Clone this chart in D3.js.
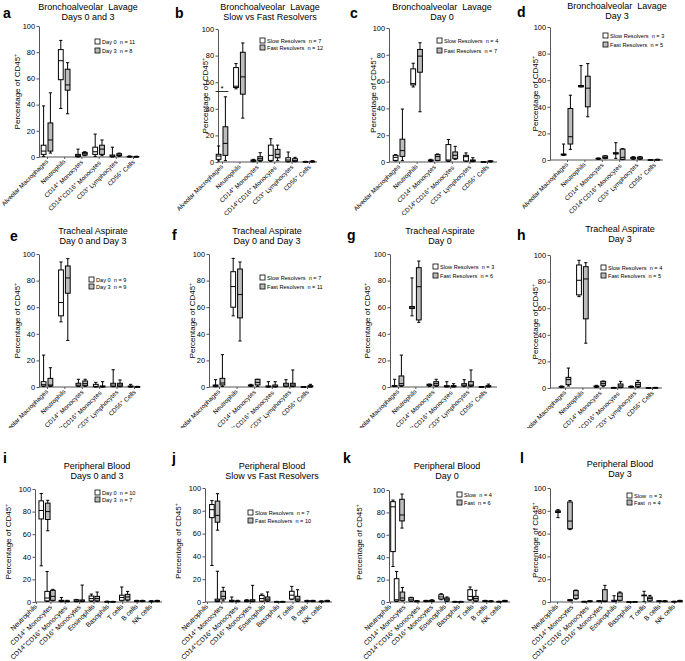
<!DOCTYPE html>
<html><head><meta charset="utf-8">
<script src="https://cdn.jsdelivr.net/npm/d3@7"></script>
<style>
body{margin:0;background:#fff}
svg{display:block}
text{font-family:"Liberation Sans",Arial,sans-serif;fill:#000}
</style>
</head><body>
<svg id="chart" width="685" height="661"></svg>
<script>
// ---------- categories & tick labels ----------
const lungCategories = ["Alveolar Macrophages","Neutrophils","CD14^+ Monocytes","CD14^+CD16^+ Monocytes","CD3^+ Lymphocytes","CD56^+ Cells"];
const bloodCategories = ["Neutrophils","CD14^+ Monocytes","CD14^+CD16^+ Monocytes","CD16^+ Monocytes","Eosinophils","Basophils","T cells","B cells","NK cells"];
const yTicks = [0,20,40,60,80,100];
const yLabel = "Percentage of CD45^+";
const panelLetters = ["a","b","c","d","e","f","g","h","i","j","k","l"];
const titleLine1 = ["Bronchoalveolar  Lavage","Bronchoalveolar  Lavage","Bronchoalveolar  Lavage","Bronchoalveolar  Lavage",
  "Tracheal Aspirate","Tracheal Aspirate","Tracheal Aspirate","Tracheal Aspirate",
  "Peripheral Blood","Peripheral Blood","Peripheral Blood","Peripheral Blood"];
const titleLine2 = ["Days 0 and 3","Slow vs Fast Resolvers","Day 0","Day 3",
  "Day 0 and Day 3","Day 0 and Day 3","Day 0","Day 3",
  "Days 0 and 3","Slow vs Fast Resolvers","Day 0","Day 3"];
const legendFirst = ["Day 0  n = 11","Slow Resolvers  n = 7","Slow Resolvers  n = 4","Slow Resolvers  n = 3",
  "Day 0  n = 9","Slow Resolvers  n = 7","Slow Resolvers  n = 3","Slow Resolvers  n = 4",
  "Day 0  n = 10","Slow Resolvers  n = 7","Slow  n = 4","Slow  n = 3"];
const legendSecond = ["Day 3  n = 8","Fast Resolvers  n = 12","Fast Resolvers  n = 7","Fast Resolvers  n = 5",
  "Day 3  n = 9","Fast Resolvers  n = 11","Fast Resolvers  n = 6","Fast Resolvers  n = 5",
  "Day 3  n = 7","Fast Resolvers  n = 10","Fast  n = 6","Fast  n = 4"];

// ---------- box statistics: [min, Q1, median, Q3, max] per category ----------
// a: BAL day 0 vs day 3
const aFirst  = [[0.5,2,4.5,9,39],[37,59,73.5,82,89],[0,0.3,1,2,6],[0.5,2,4,7.5,17.5],[0,0.3,0.8,1.5,7.5],[0,0.1,0.3,0.5,0.8]];
const aSecond = [[3,4.5,13,26,49],[33,51,55,67,72],[1,1.5,2.5,3.5,4],[1,2,6,9,13],[0.5,1,1.5,2.5,3],[0,0.1,0.2,0.4,0.6]];
// b: BAL slow vs fast
const bFirst  = [[0.8,2,4.5,5.8,12],[55,56,57,71,74],[0.2,0.5,1,1.5,2],[0.5,1.2,5,12.7,17.5],[0,0.5,1.5,3.2,7.5],[0,0,0.2,0.3,0.5]];
const bSecond = [[1,5,14,26.5,49],[33,51,64,82.5,89.5],[0.5,1.2,2.5,4,7],[1,3.2,5.8,9.5,12.7],[0.2,0.5,1,2.5,3.5],[0,0.1,0.3,0.6,1]];
const bSignificance = [{category:"Alveolar Macrophages", value:53, label:"*"}];
// c: BAL day 0
const cFirst  = [[0.8,1.2,3.5,5,5.5],[56,57.5,58.5,69.5,73.7],[0.5,0.8,1,1.5,2],[0.5,0.8,1.5,13,16.8],[0.5,0.8,4,5,6.8],[0,0,0.1,0.2,0.3]];
const cSecond = [[1,4.2,8.5,17,39.5],[37.5,67,79,84,89],[1,1.2,4,5.5,6],[2,2.5,5,7.5,11.7],[0.2,0.5,1,1.5,3.2],[0,0.2,0.5,0.8,1]];
// d: BAL day 3
const dFirst  = [[3.5,3.7,4,4.5,12],[55,55,55.5,56,71],[0.5,0.8,1,1.3,1.5],[1.2,4.5,5,5.5,13],[0.5,1,1.5,2,2.5],[0,0,0.1,0.2,0.3]];
const dSecond = [[8,12,17.5,38.7,48.7],[32.5,40,54,63,72.5],[1,1.3,2,3,3.2],[0.3,0.5,2,8.2,8.5],[0.5,0.8,1.5,2.2,2.5],[0,0.1,0.2,0.4,0.6]];
// e: TA day 0 vs day 3
const eFirst  = [[0.3,0.8,2,4,24],[49,53.5,63.5,88,94],[0.3,0.8,1.5,2.8,5.8],[0,0.2,0.5,2,3.5],[0.2,0.5,1.5,2.8,13],[0,0.1,0.3,0.8,2]];
const eSecond = [[0.3,0.8,1.5,6.5,14.5],[35,70.5,82,91,96.5],[0.5,1,2.5,4.5,5.8],[0,0.1,0.3,0.8,4],[0.2,0.5,1.5,2.8,5.3],[0,0,0.1,0.3,0.5]];
// f: TA slow vs fast
const fFirst  = [[0.2,0.5,1,1.5,5.5],[53.5,60,75.5,86.7,96.7],[0.5,0.8,1,1.5,2],[0,0.1,0.3,0.8,4],[0.2,0.5,1.5,2.8,5.5],[0,0,0.1,0.2,0.3]];
const fSecond = [[0.5,1.5,3,6.5,24.3],[34.6,52,69.5,88.7,94],[0.5,1.5,3.5,5.8,5.8],[0,0.2,0.5,1.5,4],[0.2,0.5,1.5,2.8,12.8],[0,0.1,0.3,1,2]];
// g: TA day 0
const gFirst  = [[0.3,0.5,0.8,1,5.8],[53.5,59,60,60.5,82],[0.5,1,1.5,2,2.2],[0,0.2,0.5,1,4],[0.3,0.8,1.5,2.5,5.5],[0,0,0.1,0.2,0.3]];
const gSecond = [[0.5,1,2.5,8.3,24],[48.6,50.4,75.4,89.7,94.7],[0.5,1,2.5,4,5.8],[0,0.2,0.5,1,2.5],[0.3,0.8,1.5,4,12.8],[0,0.2,0.5,1,2.2]];
// h: TA day 3
const hFirst  = [[0.3,0.6,0.9,1.2,1.5],[68.7,70,81,92.5,96],[0.5,0.8,1,1.5,2],[0,0.1,0.2,0.3,0.5],[0.3,0.6,0.9,1.2,1.5],[0,0,0.1,0.2,0.3]];
const hSecond = [[1.5,2.5,6.3,8,15],[33.7,52,82,91.2,94.2],[1,2,3.5,5,5.2],[0.2,0.5,1.5,3,5],[0.5,1,2.5,4.2,5.7],[0,0.1,0.2,0.3,0.5]];
// i: PB day 0 vs day 3
const iFirst  = [[32,73.5,81,89.5,96],[0.5,1,3.5,9.4,27],[0.2,0.5,1,1.5,4],[0.2,0.5,1,2,2.3],[0.5,1,3,5.3,7],[0,0.1,0.3,0.5,0.8],[1,1.5,4,6,13.3],[0.3,0.5,0.8,1.2,1.5],[0.2,0.4,0.6,0.8,1.2]];
const iSecond = [[63,73,80,87.5,90],[1,1.5,5,10.3,11.2],[0.2,0.4,0.6,1,1.5],[0.2,0.5,1,1.8,15],[0.5,1,3,5,8.8],[0,0.1,0.2,0.4,0.6],[1,1.8,4.5,6.8,9.4],[0.3,0.5,0.8,1.2,1.5],[0.3,0.5,0.8,1.2,1.5]];
// j: PB slow vs fast
const jFirst  = [[32,74,81,85.5,89],[0.3,0.5,1.5,2.5,27],[0.2,0.5,1,1.5,4.4],[0.2,0.5,1,1.5,2],[0.5,0.8,3,5.8,7],[0,0.1,0.2,0.4,0.6],[2,2.6,6,9.4,13.7],[0.3,0.5,0.8,1.2,1.5],[0.2,0.3,0.5,0.7,1]];
const jSecond = [[63,70,76,88.5,95],[1,2.6,5,9.4,12.9],[0.2,0.4,0.6,1,1.5],[0.2,0.5,1,2,14.6],[0.5,1,2.5,4.4,8.8],[0,0.1,0.2,0.4,0.6],[0.5,1,2.5,5,10.8],[0.3,0.5,0.8,1.2,1.5],[0.3,0.5,0.8,1.2,1.5]];
// k: PB day 0
const kFirst  = [[31.7,45,85,89.6,91],[0.5,0.9,2,20.8,27.3],[0.5,1,2.5,3.9,4.2],[0.3,0.5,0.8,1.2,1.5],[2,2.7,4.5,6.5,7.4],[0,0.1,0.2,0.4,0.6],[1.5,2,5,11,13.4],[0.3,0.5,0.8,1.2,1.5],[0.1,0.2,0.3,0.5,0.7]];
const kSecond = [[66,72.4,77.7,91.7,96.4],[1,1.5,3.6,8.9,13],[0.2,0.4,0.6,1,1.3],[0.3,0.5,1,1.5,2],[0.5,1,2.5,3.6,4.5],[0,0.1,0.2,0.4,0.6],[0.5,1,3,5,10.4],[0.2,0.4,0.6,0.9,1.2],[0.3,0.5,0.8,1.2,1.5]];
// l: PB day 3
const lFirst  = [[74,78.5,79.5,80,81],[1,1.2,1.5,2,2.2],[0.1,0.2,0.3,0.5,0.6],[0.3,0.5,0.8,1,1.2],[0.3,0.5,1,1.5,5.5],[0,0,0.1,0.2,0.3],[0.5,5.5,5.8,6,9.4],[0.3,0.5,0.8,1,1.2],[0.1,0.2,0.3,0.5,0.7]];
const lSecond = [[63.5,64.3,71,87.7,89],[2.5,3,6,10,10.5],[0.2,0.4,0.6,1,1.3],[0.3,0.5,1,10.8,14.6],[1,1.5,5,7.9,8.8],[0,0.1,0.2,0.3,0.4],[0.8,1,3,4.4,5.8],[0.2,0.4,0.6,0.9,1.2],[0.3,0.5,0.8,1.2,1.5]];

const firstSeries  = [aFirst,bFirst,cFirst,dFirst,eFirst,fFirst,gFirst,hFirst,iFirst,jFirst,kFirst,lFirst];
const secondSeries = [aSecond,bSecond,cSecond,dSecond,eSecond,fSecond,gSecond,hSecond,iSecond,jSecond,kSecond,lSecond];

// ---------- layout (positions only) ----------
const layout = [
 {clip:[0,0,170,215],   axisX:39,  xEnd:137, yTop:26,  yBot:157, first:47,  last:133, letter:[3,18],   title:[88,10],   ylabX:20,  ylabDy:0,  leg:[95,39,9]},
 {clip:[170,0,170,215], axisX:218, xEnd:317, yTop:29,  yBot:162, first:222, last:309, letter:[175,18], title:[270,10],  ylabX:208, ylabDy:0,  leg:[260,38,7]},
 {clip:[340,0,170,215], axisX:389, xEnd:497, yTop:28,  yBot:162, first:399, last:487, letter:[350,18], title:[442,10],  ylabX:376, ylabDy:0,  leg:[437,38,10]},
 {clip:[510,0,175,215], axisX:550, xEnd:663, yTop:27,  yBot:160, first:567, last:654, letter:[517,17], title:[617,9],   ylabX:538, ylabDy:0,  leg:[603,33,9]},
 {clip:[0,215,170,213], axisX:39,  xEnd:140, yTop:254, yBot:387, first:47,  last:134, letter:[10,241], title:[93,234],  ylabX:20,  ylabDy:0,  leg:[89,277,7]},
 {clip:[170,215,170,213],axisX:209,xEnd:313, yTop:254, yBot:387, first:219, last:307, letter:[172,240],title:[267,234], ylabX:195, ylabDy:0,  leg:[260,275,9]},
 {clip:[340,215,170,213],axisX:390,xEnd:497, yTop:254, yBot:387, first:398, last:485, letter:[347,240],title:[440,234], ylabX:370, ylabDy:0,  leg:[433,264,9]},
 {clip:[510,215,175,213],axisX:550,xEnd:662, yTop:255, yBot:388, first:565, last:652, letter:[517,240],title:[620,232], ylabX:538, ylabDy:0,  leg:[601,265,8]},
 {clip:[0,440,170,221], axisX:35,  xEnd:162, yTop:489, yBot:602, pos:[44.5,50,64.3,79.3,94.3,110,124.7,139.7,154.3], lab:[36,151], neutOff:3.25, letter:[3,463],  title:[97,469],  ylabX:11,  ylabDy:-4, leg:[95,490,7]},
 {clip:[170,440,170,221],axisX:205,xEnd:332, yTop:488, yBot:602, pos:[214.7,220.3,234.7,249.7,264.7,279.7,294.7,310,324.3], lab:[207,321], neutOff:2.8, letter:[172,463],title:[272,469], ylabX:181, ylabDy:-4, leg:[248,510,8]},
 {clip:[340,440,170,221],axisX:389,xEnd:512, yTop:490, yBot:602, pos:[397.5,399.5,414,429,444,458,473,488,502], lab:[390,500], neutOff:4.5, letter:[343,463],title:[447,469], ylabX:362, ylabDy:-4, leg:[457,492,8]},
 {clip:[510,440,175,221],axisX:550,xEnd:683, yTop:488, yBot:602, pos:[564,573,587,602,617,632,647,662,677], lab:[557,674], neutOff:6, letter:[520,463],title:[620,467], ylabX:538, ylabDy:-5, leg:[627,493,7]}
];

const FILL = ["#ffffff","#bdbdbd"];
const svg = d3.select("#chart");

function rich(sel, str){
  const parts = str.split("^+");
  parts.forEach((p,i)=>{
    if(i>0){
      sel.append("tspan").attr("dy","-0.45em").style("font-size","70%").text("+");
      sel.append("tspan").attr("dy","0.45em").text(p);
    } else {
      sel.append("tspan").text(p);
    }
  });
}

layout.forEach((L, pi) => {
  const blood = pi >= 8;
  const cats = blood ? bloodCategories : lungCategories;
  const cid = "clip" + pi;
  svg.append("clipPath").attr("id", cid).append("rect")
     .attr("x", L.clip[0]).attr("y", L.clip[1]).attr("width", L.clip[2]).attr("height", L.clip[3]);
  const g = svg.append("g").attr("clip-path", `url(#${cid})`);

  const y = d3.scaleLinear().domain([0,100]).range([L.yBot, L.yTop]);
  const xLab = blood ? d3.scalePoint().domain(cats).range(L.lab)
                     : d3.scalePoint().domain(cats).range([L.first, L.last]);
  const x = blood ? d3.scaleOrdinal().domain(cats).range(L.pos) : xLab;
  const off = blood ? 2.9 : 3.4;
  const bw = blood ? 4.6 : 4.8;

  // y axis
  const ya = g.append("g").attr("transform", `translate(${L.axisX},0)`)
    .call(d3.axisLeft(y).tickValues(yTicks).tickSize(2.5).tickSizeOuter(0).tickPadding(1.5));
  ya.select(".domain").attr("stroke","#555").attr("stroke-width",1);
  ya.selectAll(".tick line").attr("stroke","#555");
  ya.selectAll(".tick text").style("font-size","7.4px").style("font-family","Liberation Sans, Arial, sans-serif");

  // x axis
  g.append("line").attr("x1", L.axisX).attr("x2", L.xEnd).attr("y1", y(0)).attr("y2", y(0))
    .attr("stroke","#555").attr("stroke-width",1.2);
  const xa = g.append("g").attr("transform", `translate(0,${y(0)})`)
    .call(d3.axisBottom(xLab).tickSize(2).tickFormat(""));
  xa.select(".domain").remove();
  xa.selectAll(".tick line").attr("stroke","#555");

  // x labels
  cats.forEach(c => {
    const t = g.append("text")
      .attr("transform", `translate(${xLab(c)+1.5},${y(0)+5}) rotate(-45)`)
      .attr("text-anchor","end")
      .style("font-size", blood ? "6.8px" : "6.3px");
    rich(t, c);
  });

  // boxes
  [firstSeries[pi], secondSeries[pi]].forEach((series, si) => {
    series.forEach((st, ci) => {
      const o = (blood && ci === 0) ? L.neutOff : off;
      const cx = x(cats[ci]) + (si === 0 ? -o : o);
      const [mn, q1, md, q3, mx] = st;
      const bg = g.append("g");
      bg.append("line").attr("x1",cx).attr("x2",cx).attr("y1",y(mx)).attr("y2",y(mn))
        .attr("stroke","#000").attr("stroke-width",1);
      [mn, mx].forEach(v => bg.append("line").attr("x1",cx-1.6).attr("x2",cx+1.6).attr("y1",y(v)).attr("y2",y(v))
        .attr("stroke","#000").attr("stroke-width",1));
      bg.append("rect").attr("x",cx-bw/2).attr("width",bw)
        .attr("y",y(q3)).attr("height",Math.max(0.6, y(q1)-y(q3)))
        .attr("fill",FILL[si]).attr("stroke","#000").attr("stroke-width",1);
      bg.append("line").attr("x1",cx-bw/2).attr("x2",cx+bw/2).attr("y1",y(md)).attr("y2",y(md))
        .attr("stroke","#000").attr("stroke-width",1);
    });
  });

  // significance
  if (pi === 1) {
    bSignificance.forEach(s => {
      const cx = x(s.category);
      g.append("line").attr("x1",cx-off-3).attr("x2",cx+off+3).attr("y1",y(s.value)).attr("y2",y(s.value))
        .attr("stroke","#000").attr("stroke-width",0.8);
      g.append("text").attr("x",cx).attr("y",y(s.value)-1).attr("text-anchor","middle")
        .style("font-size","8px").text(s.label);
    });
  }

  // y label
  const yl = g.append("text")
    .attr("transform", `translate(${L.ylabX},${(L.yTop+L.yBot)/2 + L.ylabDy}) rotate(-90)`)
    .attr("text-anchor","middle").style("font-size","8px");
  rich(yl, yLabel);

  // title
  g.append("text").attr("x",L.title[0]).attr("y",L.title[1]).attr("text-anchor","middle")
    .style("font-size","9px").style("white-space","pre").text(titleLine1[pi]);
  g.append("text").attr("x",L.title[0]).attr("y",L.title[1]+10).attr("text-anchor","middle")
    .style("font-size","9px").style("white-space","pre").text(titleLine2[pi]);

  // letter
  g.append("text").attr("x",L.letter[0]).attr("y",L.letter[1])
    .style("font-size","14px").style("font-weight","bold").text(panelLetters[pi]);

  // legend
  [legendFirst[pi], legendSecond[pi]].forEach((lab, li) => {
    const ly = L.leg[1] + li * L.leg[2];
    g.append("rect").attr("x",L.leg[0]).attr("y",ly).attr("width",5).attr("height",5)
      .attr("fill",FILL[li]).attr("stroke","#000").attr("stroke-width",0.8);
    g.append("text").attr("x",L.leg[0]+7).attr("y",ly+4.8)
      .style("font-size","5.6px").style("white-space","pre").text(lab);
  });
});
</script>
</body></html>
